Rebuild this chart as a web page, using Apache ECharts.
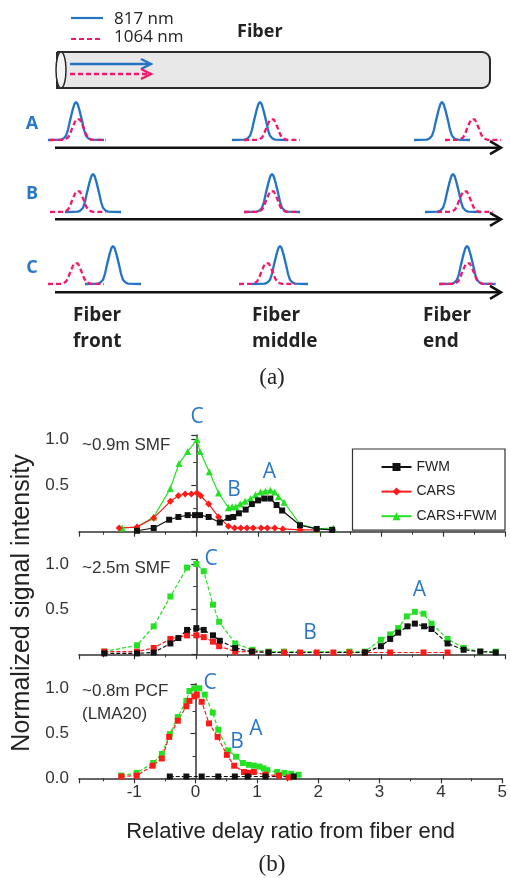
<!DOCTYPE html>
<html>
<head>
<meta charset="utf-8">
<script src="https://cdn.jsdelivr.net/npm/echarts@6/dist/echarts.min.js"></script>
<style>
  html, body { margin: 0; padding: 0; background: #fff; }
  #main { width: 510px; height: 878px; }
</style>
</head>
<body>
<div id="main"></div>
<script>
// (a) schematic: pulse profile and pulse centres per row
const pulseDx = [-28, -15, -12.5, -10, -8, -6, -3.5, -1.7, 0, 1.7, 3.5, 6, 8, 10, 12.5, 15, 28]
const pulseDy = [0, 0.01, 0.04, 0.11, 0.27, 0.51, 0.78, 0.94, 1, 0.94, 0.78, 0.51, 0.27, 0.11, 0.04, 0.01, 0]
const rowNames = ['A', 'B', 'C']
const rowBase = [140, 212, 284]
const blueX = [[76, 260, 442], [93, 272, 453], [113, 280, 467]]
const pinkX = [[78, 272, 473], [78, 272, 465], [76, 267, 468]]

// (b) measured curves [delay ratio, normalized intensity]
const fwm1 = [[-0.96, 0.01], [-0.69, 0.04], [-0.44, 0.13], [-0.29, 0.16], [-0.14, 0.18], [-0.02, 0.18], [0.06, 0.18], [0.2, 0.16], [0.38, 0.1], [0.52, 0.15], [0.6, 0.16], [0.69, 0.2], [0.8, 0.24], [0.9, 0.3], [1.0, 0.34], [1.1, 0.36], [1.2, 0.36], [1.3, 0.29], [1.39, 0.23], [1.68, 0.07], [1.95, 0.03], [2.2, 0.02]]
const cars1 = [[-1.25, 0.04], [-0.96, 0.05], [-0.69, 0.15], [-0.42, 0.33], [-0.29, 0.39], [-0.18, 0.41], [-0.08, 0.41], [0.01, 0.42], [0.07, 0.39], [0.2, 0.3], [0.36, 0.16], [0.52, 0.06], [0.62, 0.04], [0.72, 0.04], [0.82, 0.04], [0.92, 0.04], [1.05, 0.04], [1.15, 0.04], [1.27, 0.04], [1.4, 0.03], [1.68, 0.02], [1.95, 0.02]]
const mix1 = [[-1.2, 0.04], [-0.96, 0.05], [-0.69, 0.16], [-0.42, 0.47], [-0.28, 0.74], [-0.14, 0.87], [0.01, 1.0], [0.06, 0.87], [0.21, 0.65], [0.36, 0.42], [0.52, 0.26], [0.58, 0.27], [0.64, 0.27], [0.71, 0.3], [0.79, 0.33], [0.88, 0.36], [0.96, 0.4], [1.04, 0.43], [1.12, 0.44], [1.2, 0.45], [1.27, 0.43], [1.33, 0.38], [1.42, 0.32], [1.68, 0.08], [1.96, 0.03], [2.22, 0.04]]

const fwm2 = [[-1.49, 0.01], [-0.96, 0.01], [-0.69, 0.02], [-0.42, 0.12], [-0.29, 0.18], [-0.15, 0.27], [0, 0.29], [0.12, 0.27], [0.27, 0.21], [0.38, 0.15], [0.63, 0.07], [0.9, 0.03], [1.17, 0.02], [2.73, 0.02], [2.99, 0.09], [3.14, 0.17], [3.27, 0.24], [3.42, 0.31], [3.54, 0.34], [3.69, 0.31], [3.81, 0.28], [4.07, 0.12], [4.33, 0.05], [4.6, 0.03], [4.85, 0.02]]
const cars2 = [[-1.49, 0.03], [-0.96, 0.03], [-0.69, 0.07], [-0.42, 0.17], [-0.15, 0.21], [0, 0.21], [0.12, 0.19], [0.27, 0.14], [0.37, 0.09], [0.63, 0.03], [0.91, 0.03], [1.17, 0.02], [1.42, 0.02], [1.68, 0.02], [1.95, 0.02], [2.22, 0.02], [2.48, 0.02], [2.73, 0.02], [3.14, 0.02], [3.68, 0.02], [4.07, 0.02]]
const mix2 = [[-1.49, 0.03], [-0.96, 0.1], [-0.69, 0.31], [-0.42, 0.64], [-0.15, 0.96], [0, 1.0], [0.12, 0.92], [0.27, 0.55], [0.37, 0.36], [0.63, 0.12], [0.91, 0.05], [1.17, 0.03], [1.42, 0.03], [2.48, 0.03], [2.73, 0.03], [2.99, 0.16], [3.14, 0.22], [3.27, 0.29], [3.41, 0.42], [3.54, 0.47], [3.68, 0.45], [3.81, 0.34], [4.07, 0.17], [4.33, 0.07], [4.6, 0.03], [4.85, 0.03]]

const fwm3 = [[-0.42, 0.02], [-0.15, 0.02], [0.1, 0.02], [0.37, 0.02], [0.64, 0.02], [0.85, 0.02], [1.14, 0.02], [1.6, 0.02]]
const cars3 = [[-1.21, 0.02], [-0.96, 0.03], [-0.7, 0.14], [-0.55, 0.22], [-0.43, 0.46], [-0.29, 0.64], [-0.15, 0.8], [-0.1, 0.86], [-0.02, 0.91], [0.02, 0.93], [0.1, 0.85], [0.22, 0.61], [0.36, 0.46], [0.51, 0.26], [0.63, 0.14], [0.79, 0.07], [0.87, 0.06], [0.95, 0.07], [1.14, 0.04], [1.36, 0.03], [1.52, 0.01]]
const mix3 = [[-1.21, 0.03], [-0.96, 0.06], [-0.69, 0.17], [-0.55, 0.27], [-0.42, 0.49], [-0.29, 0.68], [-0.15, 0.86], [-0.1, 0.97], [-0.02, 1.0], [0.06, 1.0], [0.15, 0.93], [0.28, 0.73], [0.37, 0.54], [0.53, 0.31], [0.66, 0.24], [0.77, 0.17], [0.87, 0.15], [0.95, 0.14], [1.04, 0.13], [1.11, 0.11], [1.17, 0.09], [1.33, 0.07], [1.45, 0.06], [1.56, 0.05], [1.68, 0.04]]

const seriesNames = ['FWM', 'CARS', 'CARS+FWM']
const panelLabels = [['~0.9m SMF'], ['~2.5m SMF'], ['~0.8m PCF', '(LMA20)']]

const BLUE = '#2473c4'
const PINK = '#f2186e'
const LETTER = '#2a78c8'
const colors = { 'FWM': '#111111', 'CARS': '#ff1a1a', 'CARS+FWM': '#26e026' }

const chart = echarts.init(document.getElementById('main'))

const gridTops = [435, 559.5, 683.8]
const gridHeights = [96.7, 94.8, 94.5]

function xAxisFor(i) {
  return {
    type: 'value', gridIndex: i, min: -1.9, max: 5, splitNumber: 7,
    axisLine: { lineStyle: { color: '#333', width: 1.5 } },
    axisTick: { length: 5, lineStyle: { color: '#333', width: 1.2 } },
    minorTick: { show: true, splitNumber: 2, length: 3, lineStyle: { color: '#333', width: 1 } },
    splitLine: { show: false },
    axisLabel: {
      show: i === 2, margin: 6, fontSize: 17, color: '#333', fontFamily: 'Liberation Sans',
      formatter: v => (Math.abs(v - Math.round(v)) > 1e-6 ? '' : String(Math.round(v)))
    },
    name: i === 2 ? 'Relative delay ratio from fiber end' : '',
    nameLocation: 'middle', nameGap: 43,
    nameTextStyle: { fontSize: 22, color: '#222', fontFamily: 'Liberation Sans' }
  }
}

function yAxisFor(i) {
  return {
    type: 'value', gridIndex: i, min: 0, max: 1.05, splitNumber: 2,
    axisLine: { show: true, lineStyle: { color: '#333', width: 1.5 } },
    axisTick: { show: true, length: 5, lineStyle: { color: '#333', width: 1.2 } },
    minorTick: { show: true, splitNumber: 2, length: 3, lineStyle: { color: '#333', width: 1 } },
    splitLine: { show: false },
    axisLabel: {
      margin: 10, fontSize: 17, color: '#333', fontFamily: 'Liberation Sans',
      formatter: v => {
        if (Math.abs(v * 2 - Math.round(v * 2)) > 1e-6) return ''
        if (v === 0 && i !== 2) return ''
        return v.toFixed(1)
      }
    }
  }
}

function curve(name, data, i, symbol, dashed) {
  return {
    name, type: 'line', xAxisIndex: i, yAxisIndex: i, data,
    symbol, symbolSize: symbol === 'rect' ? 6 : 7,
    itemStyle: { color: colors[name] },
    lineStyle: { color: colors[name], width: 1.2, type: dashed ? [4, 2] : 'solid' }
  }
}

function pulse(cx, base, amp, color, dashed) {
  return {
    type: 'line', xAxisIndex: 3, yAxisIndex: 3, silent: true, symbol: 'none', z: dashed ? 4 : 3,
    data: pulseDx.map((d, k) => [cx + d, base - amp * pulseDy[k]]),
    lineStyle: { color, width: 2.3, type: dashed ? [5, 3] : 'solid' }
  }
}

const series = [
  curve('CARS+FWM', mix1, 0, 'triangle', false),
  curve('CARS', cars1, 0, 'diamond', false),
  curve('FWM', fwm1, 0, 'rect', false),
  curve('CARS+FWM', mix2, 1, 'rect', true),
  curve('CARS', cars2, 1, 'rect', true),
  curve('FWM', fwm2, 1, 'rect', true),
  curve('CARS+FWM', mix3, 2, 'rect', true),
  curve('CARS', cars3, 2, 'rect', true),
  curve('FWM', fwm3, 2, 'rect', true)
]
rowBase.forEach((base, r) => {
  blueX[r].forEach(cx => series.push(pulse(cx, base, 38, BLUE, false)))
  pinkX[r].forEach(cx => series.push(pulse(cx, base, 22, PINK, true)))
})

// decorative drawing for the schematic and annotations
const graphic = [
  { type: 'rect', shape: { x: 57, y: 52, width: 433, height: 36, r: [0, 8, 8, 0] }, style: { fill: '#e8e8e8', stroke: '#2b2b2b', lineWidth: 2 } },
  { type: 'ellipse', shape: { cx: 61, cy: 70, rx: 5, ry: 18 }, style: { fill: '#f4f4f4', stroke: '#2b2b2b', lineWidth: 1.5 } },
  { type: 'line', shape: { x1: 70, y1: 64, x2: 150, y2: 64 }, style: { stroke: BLUE, lineWidth: 2.4 } },
  { type: 'polyline', shape: { points: [[141, 59], [151, 64], [141, 69]] }, style: { stroke: BLUE, lineWidth: 2.4, fill: null } },
  { type: 'line', shape: { x1: 70, y1: 74, x2: 150, y2: 74 }, style: { stroke: PINK, lineWidth: 2.4, lineDash: [5, 3] } },
  { type: 'polyline', shape: { points: [[141, 69], [151, 74], [141, 79]] }, style: { stroke: PINK, lineWidth: 2.4, fill: null } },
  { type: 'line', shape: { x1: 71, y1: 18, x2: 103, y2: 18 }, style: { stroke: BLUE, lineWidth: 2.2 } },
  { type: 'line', shape: { x1: 71, y1: 39, x2: 103, y2: 39 }, style: { stroke: PINK, lineWidth: 2.2, lineDash: [5, 3] } },
  { type: 'text', x: 114, y: 19, style: { text: '817 nm', font: '17px "Open Sans"', fill: '#222', verticalAlign: 'middle' } },
  { type: 'text', x: 114, y: 37, style: { text: '1064 nm', font: '17px "Open Sans"', fill: '#222', verticalAlign: 'middle' } },
  { type: 'text', x: 237, y: 32, style: { text: 'Fiber', font: 'bold 18px "Open Sans"', fill: '#222', verticalAlign: 'middle' } },
  { type: 'text', x: 73, y: 329, style: { text: 'Fiber\nfront', font: 'bold 19px "Open Sans"', lineHeight: 26, fill: '#222', verticalAlign: 'middle' } },
  { type: 'text', x: 252, y: 329, style: { text: 'Fiber\nmiddle', font: 'bold 19px "Open Sans"', lineHeight: 26, fill: '#222', verticalAlign: 'middle' } },
  { type: 'text', x: 423, y: 329, style: { text: 'Fiber\nend', font: 'bold 19px "Open Sans"', lineHeight: 26, fill: '#222', verticalAlign: 'middle' } },
  { type: 'text', x: 272, y: 378, style: { text: '(a)', font: '23px "Liberation Serif"', fill: '#222', align: 'center', verticalAlign: 'middle' } },
  { type: 'text', x: 272, y: 865, style: { text: '(b)', font: '23px "Liberation Serif"', fill: '#222', align: 'center', verticalAlign: 'middle' } },
  { type: 'text', x: 22, y: 603, rotation: Math.PI / 2, style: { text: 'Normalized signal intensity', font: '25px "Liberation Sans"', fill: '#222', align: 'center', verticalAlign: 'middle' } }
]
const rowLabelY = [124, 194, 268]
const rowArrowY = [147.7, 219.3, 292.3]
rowNames.forEach((n, r) => {
  graphic.push({ type: 'text', x: 32, y: rowLabelY[r], style: { text: n, font: 'bold 18px "Open Sans"', fill: LETTER, align: 'center', verticalAlign: 'middle' } })
  graphic.push({ type: 'line', shape: { x1: 55, y1: rowArrowY[r], x2: 500, y2: rowArrowY[r] }, style: { stroke: '#111', lineWidth: 2.5 } })
  graphic.push({ type: 'polyline', shape: { points: [[490, rowArrowY[r] - 6.5], [501, rowArrowY[r]], [490, rowArrowY[r] + 6.5]] }, style: { stroke: '#111', lineWidth: 2.5, fill: null } })
})
const panelLabelY = [[445], [568], [691, 714]]
panelLabels.forEach((lines, i) => lines.forEach((t, k) => {
  graphic.push({ type: 'text', x: 82, y: panelLabelY[i][k], style: { text: t, font: '17px "Liberation Sans"', fill: '#333', verticalAlign: 'middle' } })
}))
const letterPos = [
  [['C', 197, 417], ['B', 234, 490], ['A', 269.5, 472]],
  [['C', 211, 559], ['B', 310, 633.5], ['A', 419.5, 590]],
  [['C', 210, 683], ['B', 237, 742], ['A', 256, 729.5]]
]
letterPos.forEach(p => p.forEach(([t, x, y]) => {
  graphic.push({ type: 'text', x, y, style: { text: t, font: '21px "Open Sans"', fill: LETTER, align: 'center', verticalAlign: 'middle' } })
}))

chart.setOption({
  animation: false,
  backgroundColor: '#fff',
  grid: [
    ...gridTops.map((t, i) => ({ left: 79, right: 5, top: t, height: gridHeights[i] })),
    { left: 0, top: 0, width: 510, height: 300 }
  ],
  xAxis: [xAxisFor(0), xAxisFor(1), xAxisFor(2), { type: 'value', gridIndex: 3, min: 0, max: 510, show: false }],
  yAxis: [yAxisFor(0), yAxisFor(1), yAxisFor(2), { type: 'value', gridIndex: 3, min: 0, max: 300, inverse: true, show: false }],
  legend: {
    data: seriesNames, orient: 'vertical', right: 5, top: 449,
    itemWidth: 30, itemHeight: 10, itemGap: 10.6,
    padding: [11, 8, 7, 28], borderColor: '#333', borderWidth: 1.2,
    textStyle: { fontSize: 14, color: '#222', fontFamily: 'Liberation Sans' }
  },
  series,
  graphic
})
</script>
</body>
</html>
